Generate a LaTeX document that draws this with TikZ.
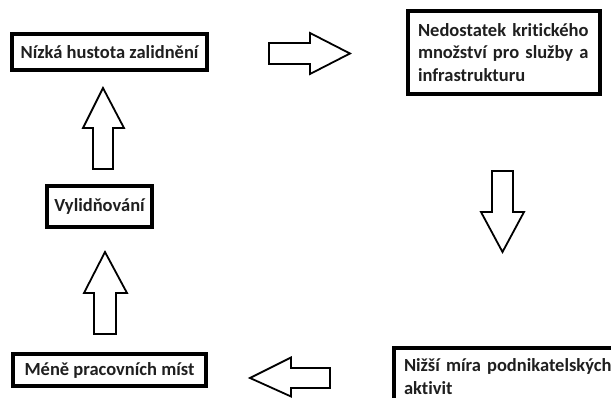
\documentclass[tikz,border=0pt]{standalone}
\usepackage{fontspec}
\setmainfont{Carlito}[Ligatures=NoCommon]
\begin{document}
\begin{tikzpicture}[x=1pt,y=-1pt,
  box/.style={draw=black,line width=4pt,fill=white,inner sep=0pt,font=\bfseries\fontsize{18.5}{22.5}\selectfont,text=black!88},
  blockarrow/.style={draw=black,line width=1.8pt,fill=white,line join=miter}]
\useasboundingbox (0,0) rectangle (611,398);
\clip (0,0) rectangle (611,398);
\node[box,minimum width=192pt,minimum height=83pt,text width=172pt,align=left,inner xsep=10pt] (n2) at (504,52.5) {Nedostatek kritického\\množství pro služby a\\infrastrukturu};
\node[box,minimum width=195pt,minimum height=36pt] (n1) at (109.5,52) {Nízká hustota zalidnění};
\node[box,minimum width=193pt,minimum height=32pt] (n5) at (109.5,370) {Méně pracovních míst};
\node[box,minimum width=105pt,minimum height=41pt] (n6) at (99.5,206.5) {Vylidňování};
\node[box,anchor=north west,minimum width=240pt,text width=220pt,align=left,inner xsep=10pt,inner ysep=11pt] (n4) at (392,346) {Nižší míra podnikatelských\\aktivit};
\draw[blockarrow] (269,43) -- (310,43) -- (310,33) -- (350,53.5) -- (310,74) -- (310,64) -- (269,64) -- cycle;
\draw[blockarrow] (492,171) -- (513,171) -- (513,212) -- (524,212) -- (502.5,252) -- (481,212) -- (492,212) -- cycle;
\draw[blockarrow] (330,368) -- (291,368) -- (291,357.5) -- (250,378) -- (291,396.5) -- (291,388) -- (330,388) -- cycle;
\draw[blockarrow] (94,334) -- (94,293) -- (84,293) -- (105,252) -- (127,293) -- (116,293) -- (116,334) -- cycle;
\draw[blockarrow] (93,169) -- (93,128) -- (83,128) -- (103,88) -- (124,128) -- (113,128) -- (113,169) -- cycle;
\end{tikzpicture}
\end{document}
